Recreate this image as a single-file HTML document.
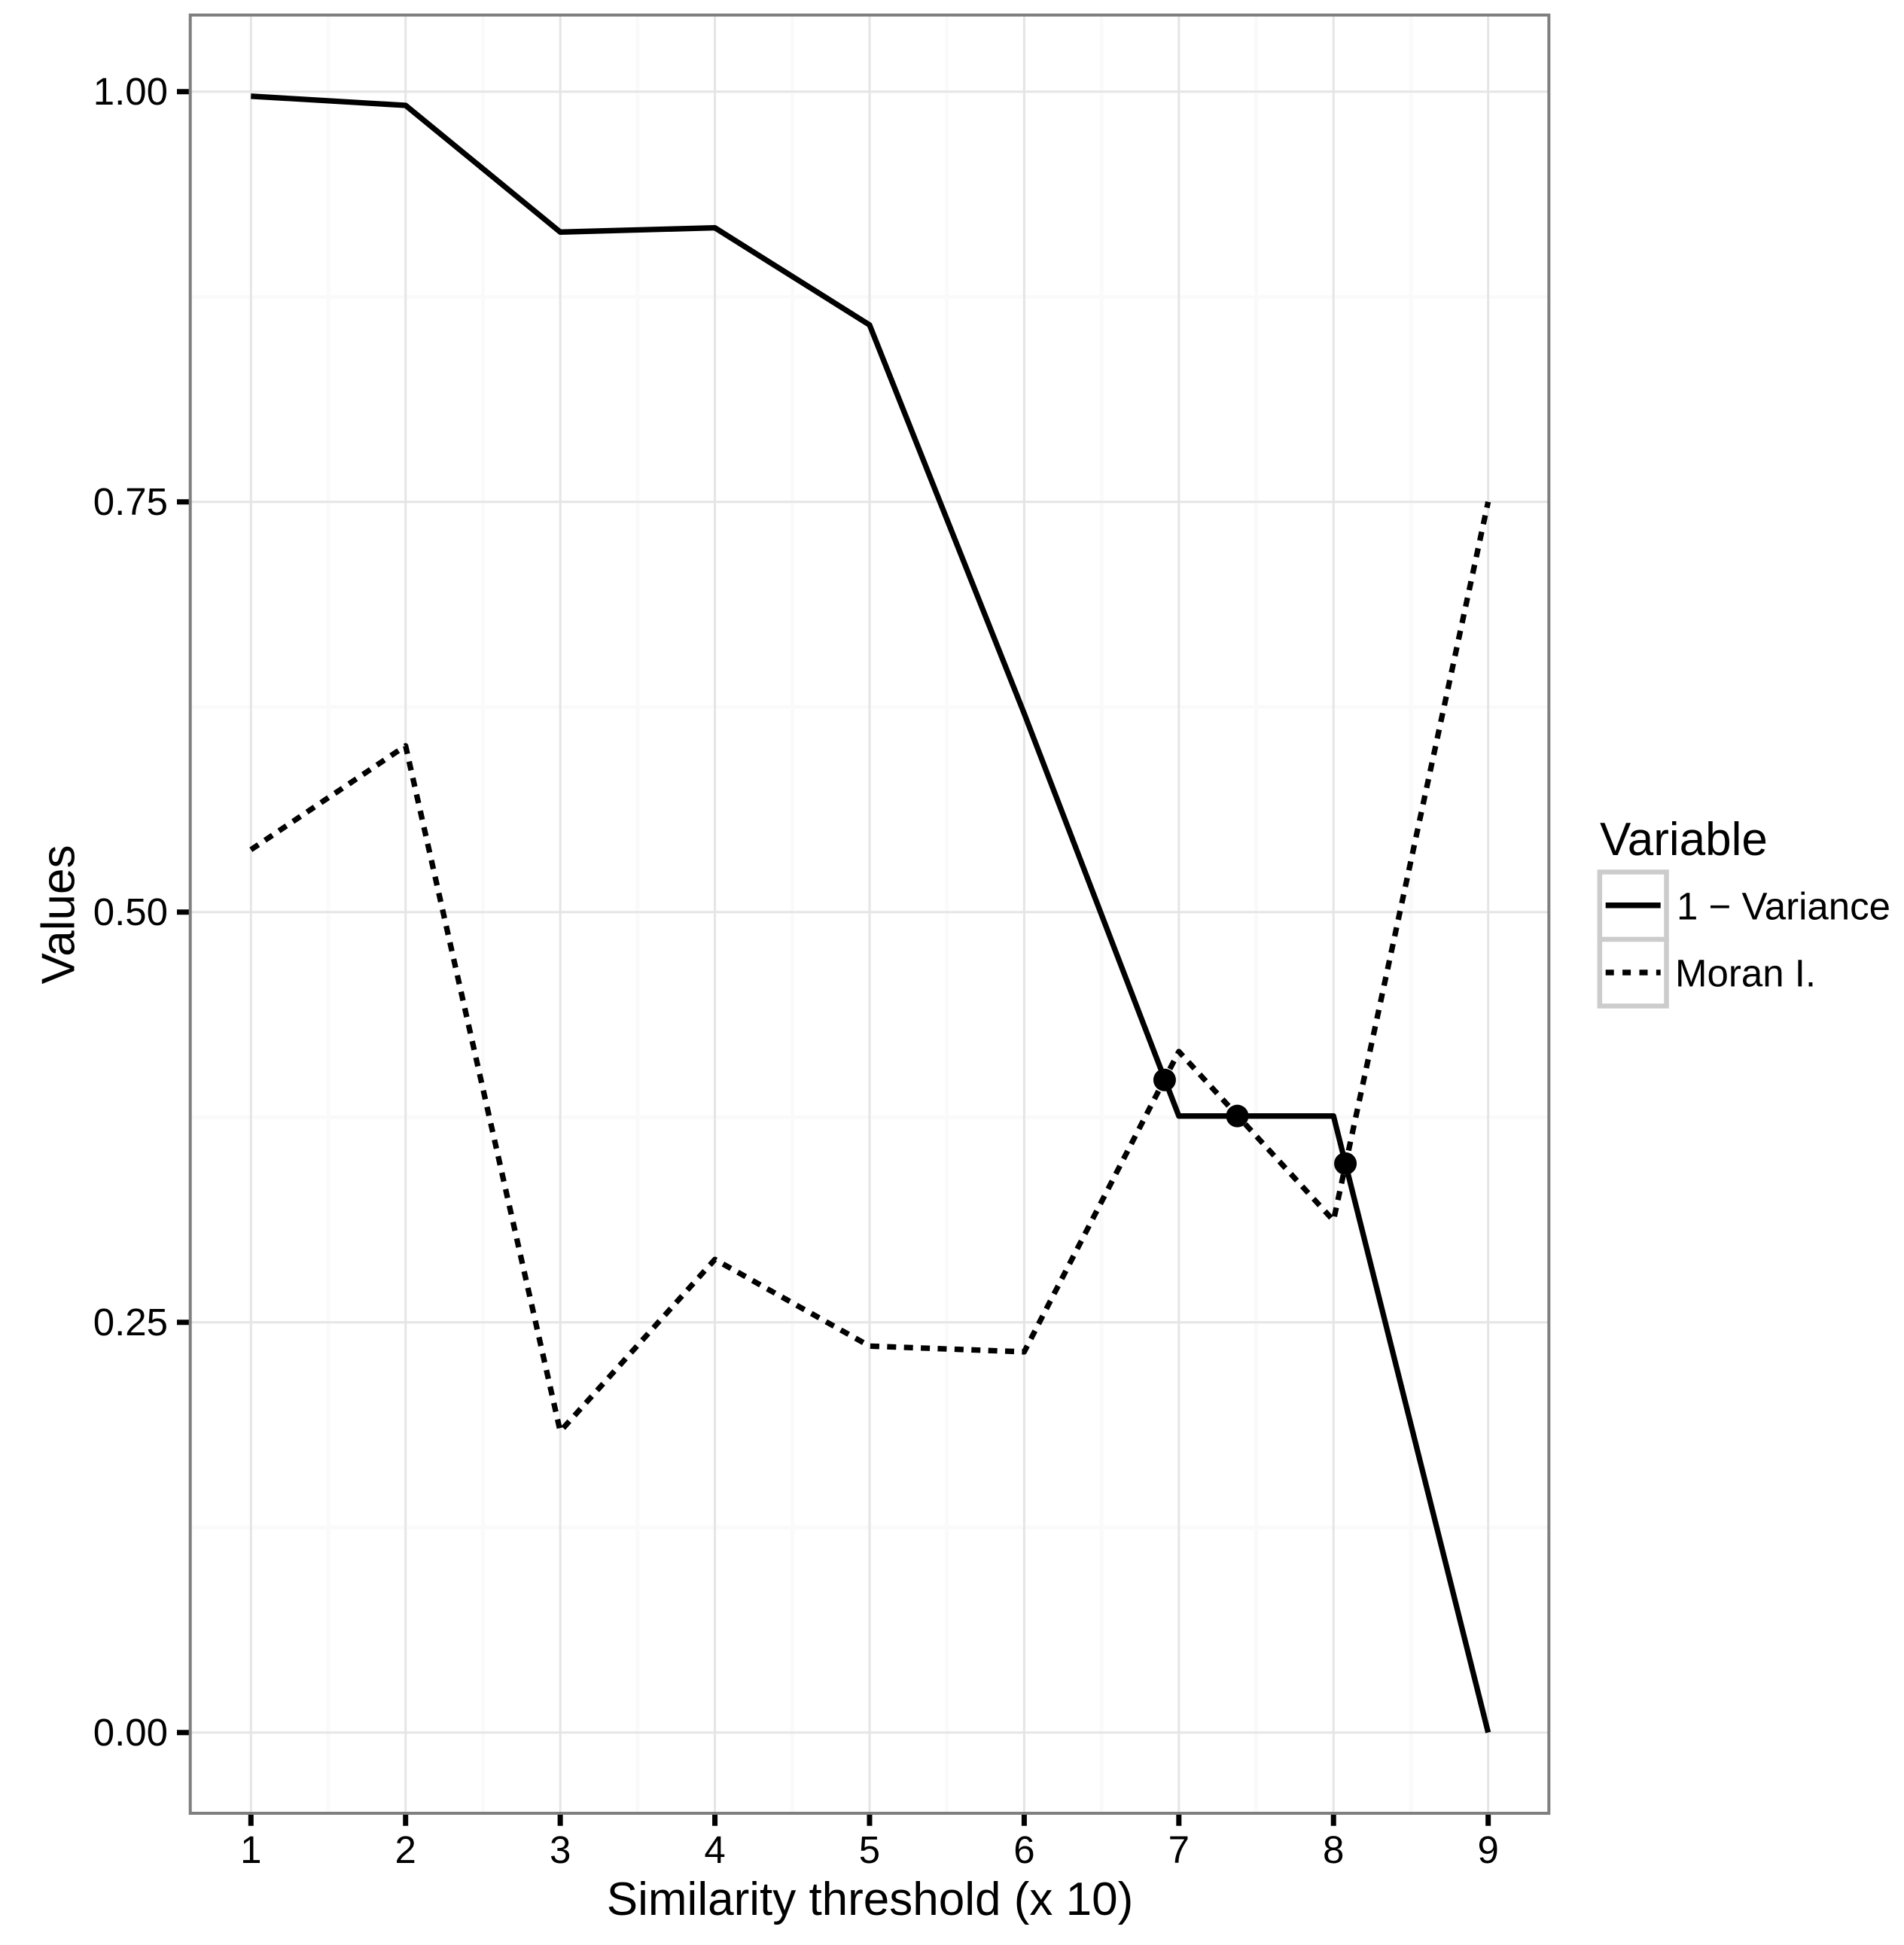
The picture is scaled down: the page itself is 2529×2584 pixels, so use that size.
<!DOCTYPE html>
<html lang="en">
<head>
<meta charset="utf-8">
<title>Similarity threshold chart</title>
<style>
html,body{margin:0;padding:0;background:#fff;}
svg{display:block;}
text{font-family:"Liberation Sans",Arial,sans-serif;fill:#000;}
</style>
</head>
<body>
<svg id="chart" xmlns="http://www.w3.org/2000/svg" width="2529" height="2584" viewBox="0 0 2529 2584">
  <rect x="0" y="0" width="2529" height="2584" fill="#ffffff"/>
  <g id="grid"></g>
  <g id="ticks"></g>
  <g id="series"></g>
  <g id="points"></g>
  <rect x="252.7" y="20" width="1804.6" height="2389" fill="none" stroke="#7f7f7f" stroke-width="4"/>
  <g id="tick-labels" font-size="51"></g>
  <text x="1155.5" y="2544" font-size="62" text-anchor="middle">Similarity threshold (x 10)</text>
  <text transform="translate(98.3,1215) rotate(-90)" font-size="62" text-anchor="middle">Values</text>
  <g>
    <text x="2125" y="1136" font-size="62">Variable</text>
    <rect x="2124.8" y="1158.5" width="88.7" height="89.5" fill="#fff" stroke="#cccccc" stroke-width="6.5"/>
    <rect x="2124.8" y="1248" width="88.7" height="88.5" fill="#fff" stroke="#cccccc" stroke-width="6.5"/>
    <line x1="2132.7" y1="1202.7" x2="2205.7" y2="1202.7" stroke="#000" stroke-width="7.5"/>
    <line x1="2132.7" y1="1292" x2="2205.7" y2="1292" stroke="#000" stroke-width="7.5" stroke-dasharray="11 11.4"/>
    <text x="2227" y="1221.7" font-size="51">1 − Variance</text>
    <text x="2225" y="1310.7" font-size="51">Moran I.</text>
  </g>
</svg>
<script>
var categories = [1, 2, 3, 4, 5, 6, 7, 8, 9];
var varianceValues = [0.9972, 0.9916, 0.9144, 0.917, 0.8578, 0.621, 0.3757, 0.3757, 0];
var moranValues = [0.538, 0.6013, 0.1835, 0.2883, 0.2355, 0.232, 0.415, 0.312, 0.75];
var markerX = [6.908, 7.378, 8.077];
var markerY = [0.3977, 0.3757, 0.3467];
var xTickValues = [1, 2, 3, 4, 5, 6, 7, 8, 9];
var xMinorValues = [1.5, 2.5, 3.5, 4.5, 5.5, 6.5, 7.5, 8.5];
var yTickValues = [0, 0.25, 0.5, 0.75, 1];
var yTickLabels = ['0.00', '0.25', '0.50', '0.75', '1.00'];
var yMinorValues = [0.125, 0.375, 0.625, 0.875];

var NS = 'http://www.w3.org/2000/svg';
function xScale(v) { return 333.3 + (v - 1) * 205.42; }
function yScale(v) { return 2301.7 - v * 2180; }
function make(tag, attrs, parent) {
  var el = document.createElementNS(NS, tag);
  for (var k in attrs) { el.setAttribute(k, attrs[k]); }
  parent.appendChild(el);
  return el;
}
var grid = document.getElementById('grid');
var ticks = document.getElementById('ticks');
var series = document.getElementById('series');
var points = document.getElementById('points');
var tickLabels = document.getElementById('tick-labels');

yMinorValues.forEach(function (v) {
  var el = make('line', {x1: 252.7, x2: 2057.3, y1: yScale(v), y2: yScale(v), stroke: '#fafafa', 'stroke-width': 5}, grid);
  
  
});
xMinorValues.forEach(function (v) {
  var el = make('line', {x1: xScale(v), x2: xScale(v), y1: 20, y2: 2409, stroke: '#fafafa', 'stroke-width': 5}, grid);
  
  
});
yTickValues.forEach(function (v, i) {
  var el = make('line', {x1: 252.7, x2: 2057.3, y1: yScale(v), y2: yScale(v), stroke: '#e5e5e5', 'stroke-width': 3}, grid);
  
  
  var tick = make('line', {x1: 235, x2: 252, y1: yScale(v), y2: yScale(v), stroke: '#000', 'stroke-width': 7}, ticks);
  
  
  var label = make('text', {x: 223, y: yScale(v) + 17.5, 'text-anchor': 'end'}, tickLabels);
  
  
  label.textContent = yTickLabels[i];
});
xTickValues.forEach(function (v) {
  var el = make('line', {x1: xScale(v), x2: xScale(v), y1: 20, y2: 2409, stroke: '#e5e5e5', 'stroke-width': 3}, grid);
  
  
  var tick = make('line', {x1: xScale(v), x2: xScale(v), y1: 2409, y2: 2425.7, stroke: '#000', 'stroke-width': 7}, ticks);
  
  
  var label = make('text', {x: xScale(v), y: 2475, 'text-anchor': 'middle'}, tickLabels);
  
  
  label.textContent = String(v);
});
function linePoints(values) {
  return categories.map(function (c, i) { return xScale(c).toFixed(2) + ',' + yScale(values[i]).toFixed(2); }).join(' ');
}
var varianceLine = make('polyline', {points: linePoints(varianceValues), fill: 'none', stroke: '#000', 'stroke-width': 7.3, 'stroke-linejoin': 'round'}, series);


var moranLine = make('polyline', {points: linePoints(moranValues), fill: 'none', stroke: '#000', 'stroke-width': 7.3, 'stroke-linejoin': 'round', 'stroke-dasharray': '12 10.4'}, series);


markerX.forEach(function (x, i) {
  var dot = make('circle', {cx: xScale(x), cy: yScale(markerY[i]), r: 15, fill: '#000'}, points);
  
  
});
</script>
</body>
</html>
